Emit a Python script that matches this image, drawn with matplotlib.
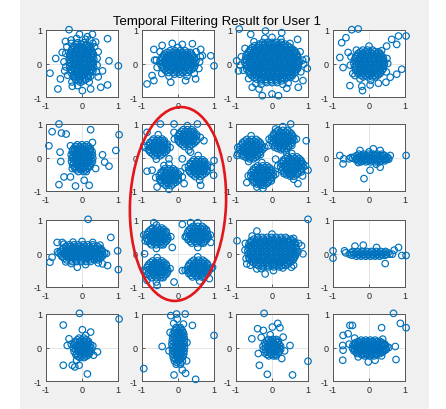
import numpy as np
import matplotlib.pyplot as plt
from matplotlib.patches import Ellipse, Rectangle

title = "Temporal Filtering Result for User 1"
tick_vals = [-1, 0, 1]
tick_labels = ["-1", "0", "1"]

# received symbols (I, Q) per antenna panel, row by row
p11 = [
    (-0.12, 0.62), (0.05, 0.62), (-0.15, 0.75), (0.1, 0.72), (-0.3, 0.7), (0.15, 0.8),
    (-0.22, 0.52), (-0.08, 0.52), (0.08, 0.52), (0.2, 0.52),
    (-0.28, 0.42), (-0.15, 0.42), (-0.02, 0.42), (0.12, 0.42), (0.24, 0.42),
    (-0.32, 0.32), (-0.2, 0.32), (-0.07, 0.32), (0.06, 0.32), (0.18, 0.32), (0.29, 0.32),
    (-0.34, 0.22), (-0.22, 0.22), (-0.1, 0.22), (0.02, 0.22), (0.14, 0.22), (0.27, 0.22),
    (-0.36, 0.12), (-0.24, 0.12), (-0.12, 0.12), (0.0, 0.12), (0.12, 0.12), (0.25, 0.12), (0.33, 0.12),
    (-0.35, 0.02), (-0.23, 0.02), (-0.11, 0.02), (0.01, 0.02), (0.13, 0.02), (0.25, 0.02), (0.32, 0.02),
    (-0.34, -0.08), (-0.2, -0.08), (-0.08, -0.08), (0.05, -0.08), (0.17, -0.08), (0.3, -0.08),
    (-0.33, -0.18), (-0.21, -0.18), (-0.09, -0.18), (0.03, -0.18), (0.15, -0.18), (0.28, -0.18),
    (-0.3, -0.28), (-0.18, -0.28), (-0.05, -0.28), (0.08, -0.28), (0.22, -0.28),
    (-0.25, -0.38), (-0.12, -0.38), (0.01, -0.38), (0.15, -0.38), (0.24, -0.38),
    (-0.18, -0.48), (-0.05, -0.48), (0.1, -0.48), (-0.04, -0.56),
    (-0.16, 0.57), (-0.02, 0.57), (0.12, 0.57),
    (-0.26, 0.47), (-0.12, 0.47), (0.02, 0.47), (0.15, 0.47), (0.24, 0.47),
    (-0.3, 0.37), (-0.18, 0.37), (-0.05, 0.37), (0.08, 0.37), (0.2, 0.37), (0.28, 0.37),
    (-0.34, 0.27), (-0.22, 0.27), (-0.1, 0.27), (0.03, 0.27), (0.15, 0.27), (0.26, 0.27), (0.32, 0.27),
    (-0.3, 0.17), (-0.18, 0.17), (-0.06, 0.17), (0.06, 0.17), (0.19, 0.17), (0.3, 0.17),
    (-0.3, 0.07), (-0.18, 0.07), (-0.06, 0.07), (0.06, 0.07), (0.19, 0.07), (0.29, 0.07),
    (-0.29, -0.03), (-0.17, -0.03), (-0.05, -0.03), (0.07, -0.03), (0.19, -0.03), (0.28, -0.03),
    (-0.27, -0.13), (-0.14, -0.13), (-0.02, -0.13), (0.1, -0.13), (0.22, -0.13), (0.33, -0.13),
    (-0.27, -0.23), (-0.15, -0.23), (-0.03, -0.23), (0.1, -0.23), (0.2, -0.23), (0.3, -0.23),
    (-0.22, -0.33), (-0.1, -0.33), (0.03, -0.33), (0.15, -0.33),
    (-0.2, -0.43), (-0.07, -0.43), (0.06, -0.43), (0.18, -0.43),
    (-0.1, -0.52), (0.03, -0.52),
    (-0.45, 0.3), (0.42, 0.15), (-0.45, -0.1), (0.4, -0.25), (-0.4, -0.35), (0.35, 0.5),
    (-0.3, 0.6), (0.2, -0.55), (-0.28, -0.55), (0.45, -0.4), (-0.5, 0.05), (0.3, 0.6),
    (-0.42, 0.5), (0.45, 0.35), (-0.48, -0.22), (0.42, -0.05), (-0.12, -0.66), (0.22, 0.7),
    (-0.36, 1.01), (0.71, 0.74), (-0.89, -0.29), (-0.67, -0.76), (1.01, -0.07), (0.75, 0.08),
    (-0.73, 0.15), (0.71, -0.64), (0.52, -0.71), (0.38, 0.64), (0.29, 0.87), (-0.07, 0.87),
    (-0.46, 0.66), (0.01, -0.81), (0.24, -0.76), (-0.27, -0.68), (0.57, -0.22), (-0.55, 0.33),
    (-0.6, -0.46),
]

p12 = [
    (-0.22, 0.38), (-0.08, 0.38), (0.06, 0.38), (0.2, 0.38),
    (-0.38, 0.28), (-0.25, 0.28), (-0.12, 0.28), (0.01, 0.28), (0.14, 0.28), (0.27, 0.28), (0.38, 0.28),
    (-0.45, 0.18), (-0.32, 0.18), (-0.19, 0.18), (-0.06, 0.18), (0.07, 0.18), (0.2, 0.18), (0.33, 0.18), (0.45, 0.18),
    (-0.5, 0.08), (-0.37, 0.08), (-0.24, 0.08), (-0.11, 0.08), (0.02, 0.08), (0.15, 0.08), (0.28, 0.08), (0.41, 0.08), (0.5, 0.08),
    (-0.48, -0.02), (-0.35, -0.02), (-0.22, -0.02), (-0.09, -0.02), (0.04, -0.02), (0.17, -0.02), (0.3, -0.02), (0.43, -0.02),
    (-0.44, -0.12), (-0.31, -0.12), (-0.18, -0.12), (-0.05, -0.12), (0.08, -0.12), (0.21, -0.12), (0.34, -0.12), (0.45, -0.12),
    (-0.34, -0.22), (-0.21, -0.22), (-0.08, -0.22), (0.05, -0.22), (0.18, -0.22), (0.32, -0.22),
    (-0.1, -0.32), (0.05, -0.32),
    (-0.3, 0.33), (-0.16, 0.33), (-0.02, 0.33), (0.12, 0.33), (0.26, 0.33), (0.34, 0.33),
    (-0.4, 0.23), (-0.26, 0.23), (-0.13, 0.23), (0.0, 0.23), (0.13, 0.23), (0.26, 0.23), (0.4, 0.23),
    (-0.44, 0.13), (-0.31, 0.13), (-0.18, 0.13), (-0.05, 0.13), (0.08, 0.13), (0.21, 0.13), (0.34, 0.13), (0.46, 0.13),
    (-0.43, 0.03), (-0.3, 0.03), (-0.17, 0.03), (-0.04, 0.03), (0.09, 0.03), (0.22, 0.03), (0.35, 0.03), (0.47, 0.03),
    (-0.42, -0.07), (-0.28, -0.07), (-0.15, -0.07), (-0.02, -0.07), (0.11, -0.07), (0.24, -0.07), (0.37, -0.07), (0.47, -0.07),
    (-0.38, -0.17), (-0.25, -0.17), (-0.12, -0.17), (0.01, -0.17), (0.14, -0.17), (0.27, -0.17), (0.39, -0.17),
    (-0.26, -0.27), (-0.13, -0.27), (0.0, -0.27), (0.13, -0.27), (0.25, -0.27),
    (-0.6, 0.1), (0.6, 0.05), (-0.5, 0.35), (0.5, 0.35), (-0.45, -0.3), (0.45, -0.3),
    (0.0, 0.48), (0.25, -0.38), (-0.25, -0.38), (0.62, 0.2), (-0.58, -0.12), (0.58, -0.15),
    (-0.86, -0.61), (-0.67, -0.51), (-0.72, -0.36), (-0.65, 0.1), (-0.67, 0.42), (-0.44, 0.54),
    (-0.16, 0.6), (0.12, 0.57), (0.4, 0.59), (0.68, 0.23), (0.91, 0.23), (1.0, -0.07),
    (0.49, -0.46), (0.21, -0.51), (-0.2, -0.56), (0.63, 0.42),
]

p13 = [
    (-0.26, 0.63), (-0.13, 0.63), (0.0, 0.63), (0.13, 0.63), (0.26, 0.63),
    (-0.48, 0.53), (-0.35, 0.53), (-0.22, 0.53), (-0.09, 0.53), (0.04, 0.53), (0.17, 0.53), (0.3, 0.53), (0.43, 0.53),
    (-0.6, 0.43), (-0.47, 0.43), (-0.34, 0.43), (-0.21, 0.43), (-0.08, 0.43), (0.05, 0.43), (0.18, 0.43), (0.31, 0.43), (0.44, 0.43), (0.57, 0.43),
    (-0.66, 0.33), (-0.53, 0.33), (-0.4, 0.33), (-0.27, 0.33), (-0.14, 0.33), (-0.01, 0.33), (0.12, 0.33), (0.25, 0.33), (0.38, 0.33), (0.51, 0.33), (0.64, 0.33),
    (-0.72, 0.23), (-0.59, 0.23), (-0.46, 0.23), (-0.33, 0.23), (-0.2, 0.23), (-0.07, 0.23), (0.06, 0.23), (0.19, 0.23), (0.32, 0.23), (0.45, 0.23), (0.58, 0.23), (0.7, 0.23),
    (-0.74, 0.13), (-0.61, 0.13), (-0.48, 0.13), (-0.35, 0.13), (-0.22, 0.13), (-0.09, 0.13), (0.04, 0.13), (0.17, 0.13), (0.3, 0.13), (0.43, 0.13), (0.56, 0.13), (0.69, 0.13),
    (-0.76, 0.03), (-0.63, 0.03), (-0.5, 0.03), (-0.37, 0.03), (-0.24, 0.03), (-0.11, 0.03), (0.02, 0.03), (0.15, 0.03), (0.28, 0.03), (0.41, 0.03), (0.54, 0.03), (0.67, 0.03), (0.76, 0.03),
    (-0.72, -0.07), (-0.59, -0.07), (-0.46, -0.07), (-0.33, -0.07), (-0.2, -0.07), (-0.07, -0.07), (0.06, -0.07), (0.19, -0.07), (0.32, -0.07), (0.45, -0.07), (0.58, -0.07), (0.71, -0.07),
    (-0.7, -0.17), (-0.57, -0.17), (-0.44, -0.17), (-0.31, -0.17), (-0.18, -0.17), (-0.05, -0.17), (0.08, -0.17), (0.21, -0.17), (0.34, -0.17), (0.47, -0.17), (0.6, -0.17), (0.7, -0.17),
    (-0.64, -0.27), (-0.51, -0.27), (-0.38, -0.27), (-0.25, -0.27), (-0.12, -0.27), (0.01, -0.27), (0.14, -0.27), (0.27, -0.27), (0.4, -0.27), (0.53, -0.27), (0.64, -0.27),
    (-0.56, -0.37), (-0.43, -0.37), (-0.3, -0.37), (-0.17, -0.37), (-0.04, -0.37), (0.09, -0.37), (0.22, -0.37), (0.35, -0.37), (0.48, -0.37), (0.56, -0.37),
    (-0.42, -0.47), (-0.29, -0.47), (-0.16, -0.47), (-0.03, -0.47), (0.1, -0.47), (0.23, -0.47), (0.36, -0.47),
    (-0.15, -0.57), (0.0, -0.57), (0.14, -0.57),
    (-0.36, 0.58), (-0.2, 0.58), (-0.06, 0.58), (0.08, 0.58), (0.22, 0.58), (0.36, 0.58),
    (-0.54, 0.48), (-0.41, 0.48), (-0.28, 0.48), (-0.15, 0.48), (-0.02, 0.48), (0.11, 0.48), (0.24, 0.48), (0.37, 0.48), (0.5, 0.48),
    (-0.62, 0.38), (-0.49, 0.38), (-0.36, 0.38), (-0.23, 0.38), (-0.1, 0.38), (0.03, 0.38), (0.16, 0.38), (0.29, 0.38), (0.42, 0.38), (0.55, 0.38), (0.63, 0.38),
    (-0.69, 0.28), (-0.56, 0.28), (-0.43, 0.28), (-0.3, 0.28), (-0.17, 0.28), (-0.04, 0.28), (0.09, 0.28), (0.22, 0.28), (0.35, 0.28), (0.48, 0.28), (0.61, 0.28), (0.69, 0.28),
    (-0.68, 0.18), (-0.55, 0.18), (-0.42, 0.18), (-0.29, 0.18), (-0.16, 0.18), (-0.03, 0.18), (0.1, 0.18), (0.23, 0.18), (0.36, 0.18), (0.49, 0.18), (0.62, 0.18), (0.72, 0.18),
    (-0.7, 0.08), (-0.57, 0.08), (-0.44, 0.08), (-0.31, 0.08), (-0.18, 0.08), (-0.05, 0.08), (0.08, 0.08), (0.21, 0.08), (0.34, 0.08), (0.47, 0.08), (0.6, 0.08), (0.73, 0.08),
    (-0.69, -0.02), (-0.56, -0.02), (-0.43, -0.02), (-0.3, -0.02), (-0.17, -0.02), (-0.04, -0.02), (0.09, -0.02), (0.22, -0.02), (0.35, -0.02), (0.48, -0.02), (0.61, -0.02), (0.73, -0.02),
    (-0.66, -0.12), (-0.53, -0.12), (-0.4, -0.12), (-0.27, -0.12), (-0.14, -0.12), (-0.01, -0.12), (0.12, -0.12), (0.25, -0.12), (0.38, -0.12), (0.51, -0.12), (0.64, -0.12), (0.72, -0.12),
    (-0.63, -0.22), (-0.5, -0.22), (-0.37, -0.22), (-0.24, -0.22), (-0.11, -0.22), (0.02, -0.22), (0.15, -0.22), (0.28, -0.22), (0.41, -0.22), (0.54, -0.22), (0.66, -0.22),
    (-0.6, -0.32), (-0.47, -0.32), (-0.34, -0.32), (-0.21, -0.32), (-0.08, -0.32), (0.05, -0.32), (0.18, -0.32), (0.31, -0.32), (0.44, -0.32), (0.57, -0.32),
    (-0.49, -0.42), (-0.36, -0.42), (-0.23, -0.42), (-0.1, -0.42), (0.03, -0.42), (0.16, -0.42), (0.29, -0.42), (0.42, -0.42), (0.5, -0.42),
    (-0.3, -0.52), (-0.16, -0.52), (-0.02, -0.52), (0.12, -0.52), (0.26, -0.52),
    (-0.85, 0.2), (0.85, 0.1), (-0.8, -0.2), (0.8, -0.25), (-0.5, 0.65), (0.5, 0.6), (-0.65, -0.45),
    (0.65, -0.45), (0.0, 0.78), (-0.3, -0.62), (0.3, -0.62), (0.78, 0.35), (-0.75, 0.45),
    (-0.88, -0.05), (0.88, -0.02), (-0.2, 0.75), (0.25, 0.72), (-0.45, -0.6), (0.45, -0.58),
    (-0.91, 1.03), (-0.59, 0.87), (-0.18, 0.97), (0.27, 0.92), (0.71, 0.72), (-0.98, 0.08),
    (-0.93, -0.22), (0.98, -0.15), (0.95, 0.13), (0.86, -0.51), (0.73, -0.71), (-0.27, -0.96),
    (0.18, -0.96), (0.0, -0.91), (-0.55, -0.71), (0.41, -0.74), (-0.36, -0.76),
]

p14 = [
    (-0.17, 0.4), (-0.04, 0.4), (0.1, 0.4),
    (-0.3, 0.3), (-0.17, 0.3), (-0.04, 0.3), (0.09, 0.3), (0.22, 0.3), (0.31, 0.3),
    (-0.37, 0.2), (-0.24, 0.2), (-0.11, 0.2), (0.02, 0.2), (0.15, 0.2), (0.28, 0.2), (0.38, 0.2),
    (-0.41, 0.1), (-0.28, 0.1), (-0.15, 0.1), (-0.02, 0.1), (0.11, 0.1), (0.24, 0.1), (0.37, 0.1),
    (-0.42, 0.0), (-0.29, 0.0), (-0.16, 0.0), (-0.03, 0.0), (0.1, 0.0), (0.23, 0.0), (0.36, 0.0), (0.43, 0.0),
    (-0.4, -0.1), (-0.27, -0.1), (-0.14, -0.1), (-0.01, -0.1), (0.12, -0.1), (0.25, -0.1), (0.38, -0.1),
    (-0.37, -0.2), (-0.24, -0.2), (-0.11, -0.2), (0.02, -0.2), (0.15, -0.2), (0.28, -0.2), (0.37, -0.2),
    (-0.3, -0.3), (-0.17, -0.3), (-0.04, -0.3), (0.09, -0.3), (0.22, -0.3), (0.31, -0.3),
    (-0.16, -0.4), (-0.03, -0.4), (0.1, -0.4), (0.18, -0.4),
    (-0.24, 0.35), (-0.1, 0.35), (0.03, 0.35), (0.16, 0.35), (0.26, 0.35),
    (-0.33, 0.25), (-0.2, 0.25), (-0.07, 0.25), (0.06, 0.25), (0.19, 0.25), (0.32, 0.25),
    (-0.38, 0.15), (-0.25, 0.15), (-0.12, 0.15), (0.01, 0.15), (0.14, 0.15), (0.27, 0.15), (0.4, 0.15),
    (-0.36, 0.05), (-0.23, 0.05), (-0.1, 0.05), (0.03, 0.05), (0.16, 0.05), (0.29, 0.05), (0.4, 0.05),
    (-0.35, -0.05), (-0.22, -0.05), (-0.09, -0.05), (0.04, -0.05), (0.17, -0.05), (0.3, -0.05), (0.41, -0.05),
    (-0.33, -0.15), (-0.2, -0.15), (-0.07, -0.15), (0.06, -0.15), (0.19, -0.15), (0.32, -0.15), (0.4, -0.15),
    (-0.33, -0.25), (-0.2, -0.25), (-0.07, -0.25), (0.06, -0.25), (0.19, -0.25), (0.32, -0.25),
    (-0.23, -0.35), (-0.1, -0.35), (0.03, -0.35), (0.16, -0.35), (0.25, -0.35),
    (-0.5, 0.2), (0.5, 0.15), (-0.45, -0.3), (0.48, -0.25), (0.0, 0.52), (0.05, -0.5),
    (-0.35, 0.4), (0.35, 0.38), (-0.52, -0.05), (0.52, 0.0),
    (-0.48, 1.01), (-0.3, 1.03), (-0.76, 0.62), (-0.64, 0.77), (-0.81, 0.18), (-0.72, -0.12),
    (-0.58, 0.33), (0.82, 0.82), (1.03, 0.82), (0.63, 0.72), (0.49, 0.52), (0.77, 0.57),
    (0.91, -0.17), (0.77, -0.32), (0.59, -0.41), (0.47, -0.56), (0.26, -0.59), (0.03, -0.64),
    (-0.2, -0.68), (-0.25, -0.46), (-0.53, -0.66), (-0.39, -0.36), (-0.18, -0.81),
]

p21 = [
    (-0.13, 0.38), (0.0, 0.38), (0.13, 0.38),
    (-0.22, 0.28), (-0.1, 0.28), (0.02, 0.28), (0.14, 0.28), (0.23, 0.28),
    (-0.27, 0.18), (-0.15, 0.18), (-0.03, 0.18), (0.09, 0.18), (0.21, 0.18), (0.28, 0.18),
    (-0.3, 0.08), (-0.18, 0.08), (-0.06, 0.08), (0.06, 0.08), (0.18, 0.08), (0.29, 0.08),
    (-0.28, -0.02), (-0.16, -0.02), (-0.04, -0.02), (0.08, -0.02), (0.2, -0.02), (0.3, -0.02),
    (-0.29, -0.12), (-0.17, -0.12), (-0.05, -0.12), (0.07, -0.12), (0.19, -0.12), (0.29, -0.12),
    (-0.26, -0.22), (-0.14, -0.22), (-0.02, -0.22), (0.1, -0.22), (0.22, -0.22),
    (-0.2, -0.32), (-0.08, -0.32), (0.04, -0.32), (0.16, -0.32),
    (-0.1, -0.42), (0.04, -0.42), (0.12, -0.42),
    (-0.18, 0.33), (-0.06, 0.33), (0.07, 0.33), (0.18, 0.33),
    (-0.25, 0.23), (-0.13, 0.23), (-0.01, 0.23), (0.11, 0.23), (0.23, 0.23),
    (-0.24, 0.13), (-0.12, 0.13), (0.0, 0.13), (0.12, 0.13), (0.24, 0.13),
    (-0.24, 0.03), (-0.12, 0.03), (0.0, 0.03), (0.12, 0.03), (0.24, 0.03),
    (-0.23, -0.07), (-0.11, -0.07), (0.01, -0.07), (0.13, -0.07), (0.25, -0.07),
    (-0.23, -0.17), (-0.11, -0.17), (0.01, -0.17), (0.13, -0.17), (0.25, -0.17),
    (-0.2, -0.27), (-0.08, -0.27), (0.04, -0.27), (0.16, -0.27), (0.22, -0.27),
    (-0.15, -0.37), (-0.02, -0.37), (0.1, -0.37),
    (-0.64, 1.0), (-0.83, 0.77), (-0.57, 0.73), (-0.44, 0.7), (-0.92, 0.35), (0.24, 0.83),
    (1.03, 0.68), (0.94, 0.21), (0.57, 0.08), (0.63, -0.14), (0.75, -0.26), (-0.61, 0.16),
    (-0.59, -0.12), (-0.32, 0.35), (0.29, 0.45), (-0.5, -0.58), (-0.32, -0.58), (-0.64, -0.81),
    (-0.18, -0.85), (0.06, -0.68), (0.2, -0.83), (-0.27, -0.33), (0.38, -0.33),
]

p22 = [
    (-0.68, 0.55), (-0.56, 0.55), (-0.44, 0.55),
    (-0.78, 0.45), (-0.65, 0.45), (-0.52, 0.45), (-0.39, 0.45),
    (-0.83, 0.35), (-0.7, 0.35), (-0.57, 0.35), (-0.44, 0.35), (-0.31, 0.35),
    (-0.82, 0.25), (-0.69, 0.25), (-0.56, 0.25), (-0.43, 0.25), (-0.3, 0.25),
    (-0.76, 0.15), (-0.63, 0.15), (-0.5, 0.15), (-0.37, 0.15),
    (-0.64, 0.05), (-0.5, 0.05),
    (-0.72, 0.5), (-0.6, 0.5), (-0.48, 0.5), (-0.38, 0.5),
    (-0.77, 0.4), (-0.64, 0.4), (-0.51, 0.4), (-0.38, 0.4), (-0.3, 0.4),
    (-0.76, 0.3), (-0.63, 0.3), (-0.5, 0.3), (-0.37, 0.3),
    (-0.8, 0.2), (-0.67, 0.2), (-0.54, 0.2), (-0.41, 0.2), (-0.32, 0.2),
    (-0.7, 0.1), (-0.57, 0.1), (-0.44, 0.1),
    (0.14, 0.83), (0.26, 0.83), (0.38, 0.83),
    (0.04, 0.73), (0.17, 0.73), (0.3, 0.73), (0.43, 0.73),
    (-0.01, 0.63), (0.12, 0.63), (0.25, 0.63), (0.38, 0.63), (0.51, 0.63),
    (0.0, 0.53), (0.13, 0.53), (0.26, 0.53), (0.39, 0.53), (0.52, 0.53),
    (0.06, 0.43), (0.19, 0.43), (0.32, 0.43), (0.45, 0.43),
    (0.18, 0.33), (0.32, 0.33),
    (0.1, 0.78), (0.22, 0.78), (0.34, 0.78), (0.44, 0.78),
    (0.05, 0.68), (0.18, 0.68), (0.31, 0.68), (0.44, 0.68), (0.52, 0.68),
    (0.06, 0.58), (0.19, 0.58), (0.32, 0.58), (0.45, 0.58),
    (0.02, 0.48), (0.15, 0.48), (0.28, 0.48), (0.41, 0.48), (0.5, 0.48),
    (0.12, 0.38), (0.25, 0.38), (0.38, 0.38),
    (0.44, -0.07), (0.56, -0.07), (0.68, -0.07),
    (0.34, -0.17), (0.47, -0.17), (0.6, -0.17), (0.73, -0.17),
    (0.29, -0.27), (0.42, -0.27), (0.55, -0.27), (0.68, -0.27), (0.81, -0.27),
    (0.3, -0.37), (0.43, -0.37), (0.56, -0.37), (0.69, -0.37), (0.82, -0.37),
    (0.36, -0.47), (0.49, -0.47), (0.62, -0.47), (0.75, -0.47),
    (0.48, -0.57), (0.62, -0.57),
    (0.4, -0.12), (0.52, -0.12), (0.64, -0.12), (0.74, -0.12),
    (0.35, -0.22), (0.48, -0.22), (0.61, -0.22), (0.74, -0.22), (0.82, -0.22),
    (0.36, -0.32), (0.49, -0.32), (0.62, -0.32), (0.75, -0.32),
    (0.32, -0.42), (0.45, -0.42), (0.58, -0.42), (0.71, -0.42), (0.8, -0.42),
    (0.42, -0.52), (0.55, -0.52), (0.68, -0.52),
    (-0.37, -0.34), (-0.25, -0.34), (-0.13, -0.34),
    (-0.47, -0.44), (-0.34, -0.44), (-0.21, -0.44), (-0.08, -0.44),
    (-0.52, -0.54), (-0.39, -0.54), (-0.26, -0.54), (-0.13, -0.54), (0.0, -0.54),
    (-0.51, -0.64), (-0.38, -0.64), (-0.25, -0.64), (-0.12, -0.64), (0.01, -0.64),
    (-0.45, -0.74), (-0.32, -0.74), (-0.19, -0.74), (-0.06, -0.74),
    (-0.33, -0.84), (-0.19, -0.84),
    (-0.41, -0.39), (-0.29, -0.39), (-0.17, -0.39), (-0.07, -0.39),
    (-0.46, -0.49), (-0.33, -0.49), (-0.2, -0.49), (-0.07, -0.49), (0.01, -0.49),
    (-0.45, -0.59), (-0.32, -0.59), (-0.19, -0.59), (-0.06, -0.59),
    (-0.49, -0.69), (-0.36, -0.69), (-0.23, -0.69), (-0.1, -0.69), (-0.01, -0.69),
    (-0.39, -0.79), (-0.26, -0.79), (-0.13, -0.79),
    (-0.92, 0.3), (-0.55, 0.68), (-0.22, 0.3), (-0.6, -0.05),
    (0.62, 0.6), (0.26, 0.95), (-0.1, 0.55), (0.3, 0.22),
    (0.92, -0.3), (0.56, 0.06), (0.2, -0.3), (0.6, -0.68),
    (-0.62, -0.6), (-0.25, -0.2), (0.12, -0.58), (-0.25, -0.95),
    (-0.86, -0.41), (-0.72, -0.38), (-0.49, 1.0), (-0.11, 1.0), (0.54, 1.0), (0.72, 0.5),
    (-0.86, 0.75), (-0.95, 0.35), (-0.25, -0.04), (0.12, -0.04), (1.0, -0.09), (0.99, -0.53),
    (0.63, -0.83), (-0.58, -0.88), (0.17, -0.78), (0.07, -0.43), (0.35, 0.16), (-0.11, 0.75),
    (-0.39, -0.24),
]

p23 = [
    (-0.7, 0.54), (-0.56, 0.54), (-0.44, 0.54),
    (-0.82, 0.44), (-0.69, 0.44), (-0.56, 0.44), (-0.43, 0.44), (-0.33, 0.44),
    (-0.88, 0.34), (-0.75, 0.34), (-0.62, 0.34), (-0.49, 0.34), (-0.36, 0.34), (-0.27, 0.34),
    (-0.89, 0.24), (-0.76, 0.24), (-0.63, 0.24), (-0.5, 0.24), (-0.37, 0.24), (-0.26, 0.24),
    (-0.86, 0.14), (-0.73, 0.14), (-0.6, 0.14), (-0.47, 0.14), (-0.34, 0.14),
    (-0.8, 0.04), (-0.67, 0.04), (-0.54, 0.04), (-0.41, 0.04),
    (-0.62, -0.04), (-0.52, -0.04),
    (-0.76, 0.49), (-0.63, 0.49), (-0.5, 0.49), (-0.38, 0.49),
    (-0.82, 0.39), (-0.69, 0.39), (-0.56, 0.39), (-0.43, 0.39), (-0.31, 0.39),
    (-0.82, 0.29), (-0.69, 0.29), (-0.56, 0.29), (-0.43, 0.29), (-0.31, 0.29),
    (-0.83, 0.19), (-0.7, 0.19), (-0.57, 0.19), (-0.44, 0.19), (-0.31, 0.19),
    (-0.8, 0.09), (-0.67, 0.09), (-0.54, 0.09), (-0.41, 0.09), (-0.32, 0.09),
    (-0.72, 0.0), (-0.59, 0.0), (-0.46, 0.0),
    (0.17, 0.81), (0.31, 0.81), (0.43, 0.81),
    (0.05, 0.71), (0.18, 0.71), (0.31, 0.71), (0.44, 0.71), (0.54, 0.71),
    (-0.01, 0.61), (0.12, 0.61), (0.25, 0.61), (0.38, 0.61), (0.51, 0.61), (0.6, 0.61),
    (-0.02, 0.51), (0.11, 0.51), (0.24, 0.51), (0.37, 0.51), (0.5, 0.51), (0.61, 0.51),
    (0.01, 0.41), (0.14, 0.41), (0.27, 0.41), (0.4, 0.41), (0.53, 0.41),
    (0.07, 0.31), (0.2, 0.31), (0.33, 0.31), (0.46, 0.31),
    (0.25, 0.23), (0.35, 0.23),
    (0.11, 0.76), (0.24, 0.76), (0.37, 0.76), (0.49, 0.76),
    (0.05, 0.66), (0.18, 0.66), (0.31, 0.66), (0.44, 0.66), (0.56, 0.66),
    (0.05, 0.56), (0.18, 0.56), (0.31, 0.56), (0.44, 0.56), (0.56, 0.56),
    (0.04, 0.46), (0.17, 0.46), (0.3, 0.46), (0.43, 0.46), (0.56, 0.46),
    (0.07, 0.36), (0.2, 0.36), (0.33, 0.36), (0.46, 0.36), (0.55, 0.36),
    (0.15, 0.27), (0.28, 0.27), (0.41, 0.27),
    (0.43, 0.02), (0.57, 0.02), (0.69, 0.02),
    (0.31, -0.08), (0.44, -0.08), (0.57, -0.08), (0.7, -0.08), (0.8, -0.08),
    (0.25, -0.18), (0.38, -0.18), (0.51, -0.18), (0.64, -0.18), (0.77, -0.18), (0.86, -0.18),
    (0.24, -0.28), (0.37, -0.28), (0.5, -0.28), (0.63, -0.28), (0.76, -0.28), (0.87, -0.28),
    (0.27, -0.38), (0.4, -0.38), (0.53, -0.38), (0.66, -0.38), (0.79, -0.38),
    (0.33, -0.48), (0.46, -0.48), (0.59, -0.48), (0.72, -0.48),
    (0.51, -0.56), (0.61, -0.56),
    (0.37, -0.03), (0.5, -0.03), (0.63, -0.03), (0.75, -0.03),
    (0.31, -0.13), (0.44, -0.13), (0.57, -0.13), (0.7, -0.13), (0.82, -0.13),
    (0.31, -0.23), (0.44, -0.23), (0.57, -0.23), (0.7, -0.23), (0.82, -0.23),
    (0.3, -0.33), (0.43, -0.33), (0.56, -0.33), (0.69, -0.33), (0.82, -0.33),
    (0.33, -0.43), (0.46, -0.43), (0.59, -0.43), (0.72, -0.43), (0.81, -0.43),
    (0.41, -0.52), (0.54, -0.52), (0.67, -0.52),
    (-0.4, -0.25), (-0.26, -0.25), (-0.14, -0.25),
    (-0.52, -0.35), (-0.39, -0.35), (-0.26, -0.35), (-0.13, -0.35), (-0.03, -0.35),
    (-0.58, -0.45), (-0.45, -0.45), (-0.32, -0.45), (-0.19, -0.45), (-0.06, -0.45), (0.03, -0.45),
    (-0.59, -0.55), (-0.46, -0.55), (-0.33, -0.55), (-0.2, -0.55), (-0.07, -0.55), (0.04, -0.55),
    (-0.56, -0.65), (-0.43, -0.65), (-0.3, -0.65), (-0.17, -0.65), (-0.04, -0.65),
    (-0.5, -0.75), (-0.37, -0.75), (-0.24, -0.75), (-0.11, -0.75),
    (-0.32, -0.83), (-0.22, -0.83),
    (-0.46, -0.3), (-0.33, -0.3), (-0.2, -0.3), (-0.08, -0.3),
    (-0.52, -0.4), (-0.39, -0.4), (-0.26, -0.4), (-0.13, -0.4), (-0.01, -0.4),
    (-0.52, -0.5), (-0.39, -0.5), (-0.26, -0.5), (-0.13, -0.5), (-0.01, -0.5),
    (-0.53, -0.6), (-0.4, -0.6), (-0.27, -0.6), (-0.14, -0.6), (-0.01, -0.6),
    (-0.5, -0.7), (-0.37, -0.7), (-0.24, -0.7), (-0.11, -0.7), (-0.02, -0.7),
    (-0.42, -0.79), (-0.29, -0.79), (-0.16, -0.79),
    (-0.95, 0.3), (-0.58, 0.65), (-0.2, 0.3), (-0.65, -0.12), (-0.95, 0.12),
    (0.68, 0.55), (0.3, 0.92), (-0.08, 0.55), (0.4, 0.15), (0.1, 0.85),
    (0.93, -0.25), (0.55, 0.12), (0.16, -0.25), (0.6, -0.65), (0.85, -0.55),
    (-0.66, -0.55), (-0.28, -0.15), (0.1, -0.5), (-0.25, -0.92), (-0.7, -0.75),
    (0.52, 1.0), (0.95, 0.5), (-0.97, 0.06), (1.0, -0.38), (0.72, -0.78), (-0.42, -0.88),
    (0.1, -0.05), (-0.1, 0.35),
]

p24 = [
    (-0.28, 0.1), (-0.15, 0.1), (-0.02, 0.1), (0.11, 0.1), (0.24, 0.1), (0.37, 0.1),
    (-0.4, 0.02), (-0.27, 0.02), (-0.14, 0.02), (-0.01, 0.02), (0.12, 0.02), (0.25, 0.02), (0.38, 0.02), (0.5, 0.02),
    (-0.37, -0.06), (-0.24, -0.06), (-0.11, -0.06), (0.02, -0.06), (0.15, -0.06), (0.28, -0.06), (0.41, -0.06), (0.48, -0.06),
    (-0.22, -0.13), (-0.09, -0.13), (0.04, -0.13), (0.17, -0.13), (0.3, -0.13),
    (-0.34, 0.06), (-0.21, 0.06), (-0.08, 0.06), (0.05, 0.06), (0.18, 0.06), (0.31, 0.06), (0.43, 0.06),
    (-0.45, -0.02), (-0.33, -0.02), (-0.2, -0.02), (-0.07, -0.02), (0.06, -0.02), (0.19, -0.02), (0.32, -0.02), (0.45, -0.02), (0.53, -0.02),
    (-0.3, -0.1), (-0.17, -0.1), (-0.04, -0.1), (0.09, -0.1), (0.22, -0.1), (0.35, -0.1), (0.44, -0.1),
    (-0.5, 0.0), (0.55, -0.05), (0.0, 0.17), (0.2, -0.2), (-0.3, -0.15),
    (-0.81, 0.06), (-0.7, -0.04), (-0.72, -0.19), (-0.55, -0.04), (1.03, 0.06), (0.59, 0.06),
    (-0.14, -0.63), (0.03, -0.38), (0.31, -0.29), (-0.25, 0.21), (0.12, 0.26), (0.31, 0.21),
]

p31 = [
    (-0.35, 0.26), (-0.22, 0.26), (-0.09, 0.26), (0.04, 0.26), (0.17, 0.26), (0.3, 0.26),
    (-0.52, 0.16), (-0.39, 0.16), (-0.26, 0.16), (-0.13, 0.16), (0.0, 0.16), (0.13, 0.16), (0.26, 0.16), (0.39, 0.16), (0.5, 0.16),
    (-0.6, 0.06), (-0.47, 0.06), (-0.34, 0.06), (-0.21, 0.06), (-0.08, 0.06), (0.05, 0.06), (0.18, 0.06), (0.31, 0.06), (0.44, 0.06), (0.57, 0.06),
    (-0.58, -0.04), (-0.45, -0.04), (-0.32, -0.04), (-0.19, -0.04), (-0.06, -0.04), (0.07, -0.04), (0.2, -0.04), (0.33, -0.04), (0.46, -0.04), (0.58, -0.04),
    (-0.5, -0.14), (-0.37, -0.14), (-0.24, -0.14), (-0.11, -0.14), (0.02, -0.14), (0.15, -0.14), (0.28, -0.14), (0.41, -0.14), (0.5, -0.14),
    (-0.28, -0.24), (-0.15, -0.24), (-0.02, -0.24), (0.11, -0.24), (0.24, -0.24),
    (-0.45, 0.21), (-0.32, 0.21), (-0.19, 0.21), (-0.06, 0.21), (0.07, 0.21), (0.2, 0.21), (0.33, 0.21), (0.43, 0.21),
    (-0.56, 0.11), (-0.43, 0.11), (-0.3, 0.11), (-0.17, 0.11), (-0.04, 0.11), (0.09, 0.11), (0.22, 0.11), (0.35, 0.11), (0.48, 0.11), (0.55, 0.11),
    (-0.64, 0.01), (-0.52, 0.01), (-0.39, 0.01), (-0.26, 0.01), (-0.13, 0.01), (0.0, 0.01), (0.13, 0.01), (0.26, 0.01), (0.39, 0.01), (0.52, 0.01), (0.63, 0.01),
    (-0.56, -0.09), (-0.43, -0.09), (-0.3, -0.09), (-0.17, -0.09), (-0.04, -0.09), (0.09, -0.09), (0.22, -0.09), (0.35, -0.09), (0.48, -0.09), (0.56, -0.09),
    (-0.43, -0.19), (-0.3, -0.19), (-0.17, -0.19), (-0.04, -0.19), (0.09, -0.19), (0.22, -0.19), (0.35, -0.19), (0.44, -0.19),
    (-0.68, 0.05), (0.68, 0.0), (-0.5, 0.28), (0.5, 0.25), (-0.45, -0.25), (0.45, -0.28),
    (0.0, 0.36), (0.1, -0.33), (-0.25, 0.34), (0.3, 0.33), (-0.3, -0.3),
    (0.17, 1.02), (0.8, 0.48), (0.99, 0.08), (1.01, -0.48), (0.71, -0.36), (-0.89, -0.26),
    (-0.83, -0.11), (-0.69, 0.33), (-0.55, 0.33), (0.57, -0.31), (-0.13, -0.41),
]

p32 = [
    (-0.7, 0.76), (-0.57, 0.76), (-0.45, 0.76),
    (-0.81, 0.66), (-0.68, 0.66), (-0.55, 0.66), (-0.42, 0.66), (-0.33, 0.66),
    (-0.86, 0.56), (-0.73, 0.56), (-0.6, 0.56), (-0.47, 0.56), (-0.34, 0.56),
    (-0.88, 0.46), (-0.75, 0.46), (-0.62, 0.46), (-0.49, 0.46), (-0.36, 0.46), (-0.28, 0.46),
    (-0.84, 0.36), (-0.71, 0.36), (-0.58, 0.36), (-0.45, 0.36), (-0.33, 0.36),
    (-0.74, 0.26), (-0.61, 0.26), (-0.48, 0.26), (-0.41, 0.26),
    (-0.76, 0.71), (-0.63, 0.71), (-0.5, 0.71), (-0.39, 0.71),
    (-0.84, 0.61), (-0.71, 0.61), (-0.58, 0.61), (-0.45, 0.61), (-0.32, 0.61),
    (-0.8, 0.51), (-0.67, 0.51), (-0.54, 0.51), (-0.41, 0.51), (-0.3, 0.51),
    (-0.82, 0.41), (-0.69, 0.41), (-0.56, 0.41), (-0.43, 0.41), (-0.3, 0.41),
    (-0.78, 0.31), (-0.65, 0.31), (-0.52, 0.31), (-0.39, 0.31),
    (0.42, 0.81), (0.55, 0.81), (0.67, 0.81),
    (0.31, 0.71), (0.44, 0.71), (0.57, 0.71), (0.7, 0.71), (0.79, 0.71),
    (0.26, 0.61), (0.39, 0.61), (0.52, 0.61), (0.65, 0.61), (0.78, 0.61),
    (0.24, 0.51), (0.37, 0.51), (0.5, 0.51), (0.63, 0.51), (0.76, 0.51), (0.84, 0.51),
    (0.28, 0.41), (0.41, 0.41), (0.54, 0.41), (0.67, 0.41), (0.79, 0.41),
    (0.38, 0.31), (0.51, 0.31), (0.64, 0.31), (0.71, 0.31),
    (0.36, 0.76), (0.49, 0.76), (0.62, 0.76), (0.73, 0.76),
    (0.28, 0.66), (0.41, 0.66), (0.54, 0.66), (0.67, 0.66), (0.8, 0.66),
    (0.32, 0.56), (0.45, 0.56), (0.58, 0.56), (0.71, 0.56), (0.82, 0.56),
    (0.3, 0.46), (0.43, 0.46), (0.56, 0.46), (0.69, 0.46), (0.82, 0.46),
    (0.34, 0.36), (0.47, 0.36), (0.6, 0.36), (0.73, 0.36),
    (-0.7, -0.22), (-0.57, -0.22), (-0.45, -0.22),
    (-0.81, -0.32), (-0.68, -0.32), (-0.55, -0.32), (-0.42, -0.32), (-0.33, -0.32),
    (-0.86, -0.42), (-0.73, -0.42), (-0.6, -0.42), (-0.47, -0.42), (-0.34, -0.42),
    (-0.88, -0.52), (-0.75, -0.52), (-0.62, -0.52), (-0.49, -0.52), (-0.36, -0.52), (-0.28, -0.52),
    (-0.84, -0.62), (-0.71, -0.62), (-0.58, -0.62), (-0.45, -0.62), (-0.33, -0.62),
    (-0.74, -0.72), (-0.61, -0.72), (-0.48, -0.72), (-0.41, -0.72),
    (-0.76, -0.27), (-0.63, -0.27), (-0.5, -0.27), (-0.39, -0.27),
    (-0.84, -0.37), (-0.71, -0.37), (-0.58, -0.37), (-0.45, -0.37), (-0.32, -0.37),
    (-0.8, -0.47), (-0.67, -0.47), (-0.54, -0.47), (-0.41, -0.47), (-0.3, -0.47),
    (-0.82, -0.57), (-0.69, -0.57), (-0.56, -0.57), (-0.43, -0.57), (-0.3, -0.57),
    (-0.78, -0.67), (-0.65, -0.67), (-0.52, -0.67), (-0.39, -0.67),
    (0.44, -0.2), (0.57, -0.2), (0.69, -0.2),
    (0.33, -0.3), (0.46, -0.3), (0.59, -0.3), (0.72, -0.3), (0.81, -0.3),
    (0.28, -0.4), (0.41, -0.4), (0.54, -0.4), (0.67, -0.4), (0.8, -0.4),
    (0.26, -0.5), (0.39, -0.5), (0.52, -0.5), (0.65, -0.5), (0.78, -0.5), (0.86, -0.5),
    (0.3, -0.6), (0.43, -0.6), (0.56, -0.6), (0.69, -0.6), (0.81, -0.6),
    (0.4, -0.7), (0.53, -0.7), (0.66, -0.7), (0.73, -0.7),
    (0.38, -0.25), (0.51, -0.25), (0.64, -0.25), (0.75, -0.25),
    (0.3, -0.35), (0.43, -0.35), (0.56, -0.35), (0.69, -0.35), (0.82, -0.35),
    (0.34, -0.45), (0.47, -0.45), (0.6, -0.45), (0.73, -0.45), (0.84, -0.45),
    (0.32, -0.55), (0.45, -0.55), (0.58, -0.55), (0.71, -0.55), (0.84, -0.55),
    (0.36, -0.65), (0.49, -0.65), (0.62, -0.65), (0.75, -0.65),
    (-0.2, 0.5), (-0.6, 0.85), (-0.95, 0.55), (-0.6, 0.15),
    (0.9, 0.55), (0.2, 0.5), (0.55, 0.18), (0.55, 0.92),
    (-0.22, -0.45), (-0.95, -0.5), (-0.6, -0.85), (-0.58, -0.12),
    (0.92, -0.45), (0.2, -0.5), (0.55, -0.1), (0.6, -0.82),
    (-0.67, 0.92), (0.12, 0.87), (0.35, 0.92), (-0.91, 0.38), (-0.93, -0.01), (-0.16, 0.18),
    (0.12, -0.51), (0.91, 0.33), (0.96, -0.41), (0.87, -0.75), (-0.11, -0.85), (-0.86, -0.8),
    (-0.58, -0.95),
]

p33 = [
    (-0.4, 0.48), (-0.27, 0.48), (-0.14, 0.48), (-0.01, 0.48), (0.12, 0.48), (0.25, 0.48), (0.38, 0.48),
    (-0.58, 0.38), (-0.45, 0.38), (-0.32, 0.38), (-0.19, 0.38), (-0.06, 0.38), (0.07, 0.38), (0.2, 0.38), (0.33, 0.38), (0.46, 0.38), (0.58, 0.38),
    (-0.64, 0.28), (-0.51, 0.28), (-0.38, 0.28), (-0.25, 0.28), (-0.12, 0.28), (0.01, 0.28), (0.14, 0.28), (0.27, 0.28), (0.4, 0.28), (0.53, 0.28), (0.64, 0.28),
    (-0.66, 0.18), (-0.53, 0.18), (-0.4, 0.18), (-0.27, 0.18), (-0.14, 0.18), (-0.01, 0.18), (0.12, 0.18), (0.25, 0.18), (0.38, 0.18), (0.51, 0.18), (0.64, 0.18),
    (-0.67, 0.08), (-0.54, 0.08), (-0.41, 0.08), (-0.28, 0.08), (-0.15, 0.08), (-0.02, 0.08), (0.11, 0.08), (0.24, 0.08), (0.37, 0.08), (0.5, 0.08), (0.63, 0.08),
    (-0.66, -0.02), (-0.53, -0.02), (-0.4, -0.02), (-0.27, -0.02), (-0.14, -0.02), (-0.01, -0.02), (0.12, -0.02), (0.25, -0.02), (0.38, -0.02), (0.51, -0.02), (0.64, -0.02),
    (-0.64, -0.12), (-0.51, -0.12), (-0.38, -0.12), (-0.25, -0.12), (-0.12, -0.12), (0.01, -0.12), (0.14, -0.12), (0.27, -0.12), (0.4, -0.12), (0.53, -0.12), (0.62, -0.12),
    (-0.58, -0.22), (-0.45, -0.22), (-0.32, -0.22), (-0.19, -0.22), (-0.06, -0.22), (0.07, -0.22), (0.2, -0.22), (0.33, -0.22), (0.46, -0.22), (0.56, -0.22),
    (-0.45, -0.32), (-0.32, -0.32), (-0.19, -0.32), (-0.06, -0.32), (0.07, -0.32), (0.2, -0.32), (0.33, -0.32), (0.44, -0.32),
    (-0.25, -0.4), (-0.1, -0.4), (0.05, -0.4), (0.2, -0.4),
    (-0.5, 0.43), (-0.37, 0.43), (-0.24, 0.43), (-0.11, 0.43), (0.02, 0.43), (0.15, 0.43), (0.28, 0.43), (0.41, 0.43), (0.52, 0.43),
    (-0.6, 0.33), (-0.47, 0.33), (-0.34, 0.33), (-0.21, 0.33), (-0.08, 0.33), (0.05, 0.33), (0.18, 0.33), (0.31, 0.33), (0.44, 0.33), (0.57, 0.33), (0.64, 0.33),
    (-0.6, 0.23), (-0.47, 0.23), (-0.34, 0.23), (-0.21, 0.23), (-0.08, 0.23), (0.05, 0.23), (0.18, 0.23), (0.31, 0.23), (0.44, 0.23), (0.57, 0.23), (0.66, 0.23),
    (-0.6, 0.13), (-0.47, 0.13), (-0.34, 0.13), (-0.21, 0.13), (-0.08, 0.13), (0.05, 0.13), (0.18, 0.13), (0.31, 0.13), (0.44, 0.13), (0.57, 0.13), (0.67, 0.13),
    (-0.6, 0.03), (-0.47, 0.03), (-0.34, 0.03), (-0.21, 0.03), (-0.08, 0.03), (0.05, 0.03), (0.18, 0.03), (0.31, 0.03), (0.44, 0.03), (0.57, 0.03), (0.67, 0.03),
    (-0.6, -0.07), (-0.47, -0.07), (-0.34, -0.07), (-0.21, -0.07), (-0.08, -0.07), (0.05, -0.07), (0.18, -0.07), (0.31, -0.07), (0.44, -0.07), (0.57, -0.07), (0.65, -0.07),
    (-0.62, -0.17), (-0.51, -0.17), (-0.38, -0.17), (-0.25, -0.17), (-0.12, -0.17), (0.01, -0.17), (0.14, -0.17), (0.27, -0.17), (0.4, -0.17), (0.52, -0.17), (0.6, -0.17),
    (-0.52, -0.27), (-0.38, -0.27), (-0.25, -0.27), (-0.12, -0.27), (0.01, -0.27), (0.14, -0.27), (0.27, -0.27), (0.4, -0.27), (0.5, -0.27),
    (-0.38, -0.36), (-0.25, -0.36), (-0.12, -0.36), (0.01, -0.36), (0.14, -0.36), (0.27, -0.36), (0.38, -0.36),
    (-0.75, 0.1), (0.72, 0.05), (-0.55, 0.52), (0.6, 0.45), (-0.6, -0.35), (0.6, -0.35),
    (0.0, 0.58), (-0.3, -0.45), (0.3, -0.43), (-0.74, 0.3), (0.74, 0.3), (-0.72, -0.15),
    (1.0, 1.02), (-0.97, 0.38), (-0.42, 0.67), (0.82, 0.23), (0.86, -0.01), (-0.7, -0.31),
    (-0.19, -0.61), (-0.42, -0.46), (0.04, -0.51), (0.54, -0.41),
]

p34 = [
    (-0.45, 0.06), (-0.32, 0.06), (-0.19, 0.06), (-0.06, 0.06), (0.07, 0.06), (0.2, 0.06), (0.33, 0.06), (0.46, 0.06),
    (-0.55, -0.02), (-0.42, -0.02), (-0.29, -0.02), (-0.16, -0.02), (-0.03, -0.02), (0.1, -0.02), (0.23, -0.02), (0.36, -0.02), (0.49, -0.02), (0.58, -0.02),
    (-0.35, -0.08), (-0.22, -0.08), (-0.09, -0.08), (0.04, -0.08), (0.17, -0.08), (0.3, -0.08),
    (-0.5, 0.02), (-0.37, 0.02), (-0.24, 0.02), (-0.11, 0.02), (0.02, 0.02), (0.15, 0.02), (0.28, 0.02), (0.41, 0.02), (0.53, 0.02),
    (-0.48, -0.05), (-0.29, -0.05), (-0.16, -0.05), (-0.03, -0.05), (0.1, -0.05), (0.23, -0.05), (0.36, -0.05), (0.45, -0.05),
    (-0.65, 0.02), (0.65, -0.02), (0.7, 0.1), (-0.68, 0.08),
    (-1.0, 0.08), (-1.0, -0.14), (1.03, -0.06), (0.82, 0.18), (0.45, -0.3), (0.21, 0.18),
    (-0.16, 0.25), (-0.39, 0.22), (0.91, -0.06),
]

p41 = [
    (-0.08, 0.28), (0.05, 0.28),
    (-0.18, 0.18), (-0.05, 0.18), (0.08, 0.18), (0.18, 0.18),
    (-0.23, 0.08), (-0.1, 0.08), (0.03, 0.08), (0.16, 0.08), (0.24, 0.08),
    (-0.24, -0.02), (-0.11, -0.02), (0.02, -0.02), (0.15, -0.02), (0.25, -0.02),
    (-0.22, -0.12), (-0.09, -0.12), (0.04, -0.12), (0.17, -0.12), (0.24, -0.12),
    (-0.17, -0.22), (-0.04, -0.22), (0.09, -0.22), (0.18, -0.22),
    (-0.06, -0.3), (0.06, -0.3),
    (-0.13, 0.23), (0.0, 0.23), (0.12, 0.23),
    (-0.2, 0.13), (-0.07, 0.13), (0.06, 0.13), (0.18, 0.13),
    (-0.17, 0.03), (-0.04, 0.03), (0.09, 0.03), (0.21, 0.03),
    (-0.17, -0.07), (-0.04, -0.07), (0.09, -0.07), (0.21, -0.07),
    (-0.15, -0.17), (-0.02, -0.17), (0.11, -0.17), (0.21, -0.17),
    (-0.12, -0.26), (0.0, -0.26), (0.12, -0.26),
    (-0.07, 1.02), (1.03, 0.85), (-0.52, 0.67), (0.01, 0.53), (0.24, 0.46), (-0.36, 0.26),
    (-0.41, 0.06), (0.43, -0.13), (0.32, -0.23), (-0.52, -0.53), (-0.27, -0.53), (-0.2, -0.58),
    (-0.08, -0.53), (0.15, -0.79), (-0.3, 0.1), (0.3, 0.05), (0.1, 0.36), (-0.15, -0.38),
]

p42 = [
    (-0.05, 0.6), (0.06, 0.6),
    (-0.1, 0.5), (0.02, 0.5), (0.12, 0.5),
    (-0.14, 0.4), (-0.02, 0.4), (0.1, 0.4), (0.16, 0.4),
    (-0.15, 0.3), (-0.03, 0.3), (0.09, 0.3), (0.17, 0.3),
    (-0.16, 0.2), (-0.04, 0.2), (0.08, 0.2), (0.18, 0.2),
    (-0.17, 0.1), (-0.05, 0.1), (0.07, 0.1), (0.17, 0.1),
    (-0.16, 0.0), (-0.04, 0.0), (0.08, 0.0), (0.18, 0.0),
    (-0.15, -0.1), (-0.03, -0.1), (0.09, -0.1), (0.17, -0.1),
    (-0.15, -0.2), (-0.03, -0.2), (0.09, -0.2), (0.16, -0.2),
    (-0.13, -0.3), (-0.01, -0.3), (0.11, -0.3),
    (-0.1, -0.4), (0.02, -0.4), (0.12, -0.4),
    (-0.05, -0.5), (0.07, -0.5),
    (-0.04, 0.55), (0.08, 0.55),
    (-0.09, 0.45), (0.04, 0.45), (0.14, 0.45),
    (-0.09, 0.35), (0.03, 0.35), (0.14, 0.35),
    (-0.1, 0.25), (0.02, 0.25), (0.13, 0.25),
    (-0.11, 0.15), (0.01, 0.15), (0.13, 0.15),
    (-0.11, 0.05), (0.01, 0.05), (0.13, 0.05),
    (-0.1, -0.05), (0.02, -0.05), (0.13, -0.05),
    (-0.09, -0.15), (0.03, -0.15), (0.14, -0.15),
    (-0.08, -0.25), (0.04, -0.25), (0.14, -0.25),
    (-0.07, -0.35), (0.05, -0.35),
    (-0.03, -0.45), (0.07, -0.45),
    (-0.2, 0.95), (-0.04, 1.0), (0.2, 1.0), (-0.02, 0.85), (0.4, 0.66), (1.0, 0.36),
    (-0.44, 0.03), (-0.95, -0.63), (-0.11, -0.82), (0.21, -0.77), (0.49, -0.95), (0.12, -0.67),
    (-0.12, 0.72), (0.15, 0.7), (-0.25, -0.1), (0.25, 0.15), (-0.22, 0.45), (0.24, -0.4),
]

p43 = [
    (-0.1, 0.24), (0.02, 0.24), (0.12, 0.24),
    (-0.2, 0.14), (-0.08, 0.14), (0.04, 0.14), (0.16, 0.14),
    (-0.25, 0.04), (-0.12, 0.04), (0.01, 0.04), (0.14, 0.04), (0.24, 0.04),
    (-0.24, -0.06), (-0.11, -0.06), (0.02, -0.06), (0.15, -0.06), (0.24, -0.06),
    (-0.2, -0.16), (-0.07, -0.16), (0.06, -0.16), (0.18, -0.16),
    (-0.09, -0.25), (0.04, -0.25), (0.12, -0.25),
    (-0.14, 0.19), (-0.02, 0.19), (0.1, 0.19), (0.18, 0.19),
    (-0.18, 0.09), (-0.05, 0.09), (0.08, 0.09), (0.2, 0.09),
    (-0.18, -0.01), (-0.05, -0.01), (0.08, -0.01), (0.2, -0.01),
    (-0.16, -0.11), (-0.03, -0.11), (0.1, -0.11), (0.2, -0.11),
    (-0.14, -0.21), (-0.01, -0.21), (0.1, -0.21),
    (-0.22, 1.02), (0.16, 0.72), (0.22, 0.59), (0.01, 0.61), (-0.4, 0.56), (-0.24, 0.51),
    (-0.56, 0.26), (0.5, 0.06), (0.31, 0.31), (1.0, -0.41), (0.57, -0.82), (-0.13, -0.8),
    (-0.35, -0.53), (-0.38, -0.18), (0.27, -0.33), (-0.3, 0.3), (0.35, -0.1), (-0.05, 0.38),
]

p44 = [
    (-0.22, 0.22), (-0.09, 0.22), (0.04, 0.22), (0.17, 0.22),
    (-0.38, 0.14), (-0.25, 0.14), (-0.12, 0.14), (0.01, 0.14), (0.14, 0.14), (0.27, 0.14), (0.37, 0.14),
    (-0.45, 0.06), (-0.32, 0.06), (-0.19, 0.06), (-0.06, 0.06), (0.07, 0.06), (0.2, 0.06), (0.33, 0.06), (0.45, 0.06),
    (-0.46, -0.02), (-0.33, -0.02), (-0.2, -0.02), (-0.07, -0.02), (0.06, -0.02), (0.19, -0.02), (0.32, -0.02), (0.45, -0.02),
    (-0.42, -0.1), (-0.29, -0.1), (-0.16, -0.1), (-0.03, -0.1), (0.1, -0.1), (0.23, -0.1), (0.36, -0.1), (0.42, -0.1),
    (-0.33, -0.18), (-0.2, -0.18), (-0.07, -0.18), (0.06, -0.18), (0.19, -0.18), (0.31, -0.18),
    (-0.12, -0.25), (0.02, -0.25), (0.14, -0.25),
    (-0.3, 0.18), (-0.16, 0.18), (-0.03, 0.18), (0.1, 0.18), (0.23, 0.18), (0.31, 0.18),
    (-0.4, 0.1), (-0.28, 0.1), (-0.15, 0.1), (-0.02, 0.1), (0.11, 0.1), (0.24, 0.1), (0.36, 0.1), (0.44, 0.1),
    (-0.39, 0.02), (-0.26, 0.02), (-0.13, 0.02), (0.0, 0.02), (0.13, 0.02), (0.26, 0.02), (0.39, 0.02), (0.5, 0.02),
    (-0.4, -0.06), (-0.26, -0.06), (-0.13, -0.06), (0.0, -0.06), (0.13, -0.06), (0.26, -0.06), (0.39, -0.06), (0.48, -0.06),
    (-0.36, -0.14), (-0.23, -0.14), (-0.1, -0.14), (0.03, -0.14), (0.16, -0.14), (0.29, -0.14), (0.38, -0.14),
    (-0.2, -0.22), (-0.06, -0.22), (0.08, -0.22), (0.2, -0.22),
    (-0.55, 0.1), (0.55, 0.0), (-0.4, 0.28), (0.38, 0.25), (-0.3, -0.28), (0.35, -0.25),
    (0.68, 1.02), (0.87, 0.72), (1.03, 0.59), (-0.53, 0.66), (-0.46, 0.66), (0.35, 0.59),
    (-0.72, 0.36), (-0.58, 0.41), (-0.73, 0.06), (-0.72, -0.08), (-0.73, -0.38), (0.73, 0.03),
    (0.75, -0.36), (-0.02, -0.43), (0.17, -0.38),
]

panels = [
    [p11, p12, p13, p14],
    [p21, p22, p23, p24],
    [p31, p32, p33, p34],
    [p41, p42, p43, p44],
]

plt.rcParams["font.family"] = ["Liberation Sans", "DejaVu Sans"]

W, H = 446, 410
fig = plt.figure(figsize=(W / 100, H / 100), dpi=100)
fig.patch.set_facecolor("white")
# grey figure window area
fig.add_artist(Rectangle((20 / W, 0), 409 / W, 1, transform=fig.transFigure,
                         facecolor="#f0f0f0", edgecolor="none", zorder=-10))

col_left = [46, 142, 236, 333]
row_top = [31, 125, 221, 315]
ax_w, ax_h = 72, 67

for r in range(4):
    for c in range(4):
        pts = np.array(panels[r][c])
        ax = fig.add_axes([col_left[c] / W, 1 - (row_top[r] + ax_h) / H, ax_w / W, ax_h / H])
        ax.set_facecolor("white")
        ax.scatter(pts[:, 0], pts[:, 1], s=22, facecolors="none", edgecolors="#0072BD",
                   linewidths=0.85, clip_on=False, zorder=3)
        ax.set_xlim(-1, 1)
        ax.set_ylim(-1, 1)
        ax.set_xticks(tick_vals)
        ax.set_yticks(tick_vals)
        ax.set_xticklabels(tick_labels)
        ax.set_yticklabels(tick_labels)
        ax.tick_params(direction="in", length=2, width=0.5, labelsize=6.5,
                       colors="#262626", pad=3)
        ax.grid(True, color="#e0e0e0", linewidth=0.6)
        ax.set_axisbelow(True)
        for sp in ax.spines.values():
            sp.set_color("#555555")
            sp.set_linewidth(0.7)

fig.text(217 / W, 1 - 25 / H, title, ha="center", va="baseline", fontsize=9.5, color="black")

# highlight around the two QPSK-like panels
fig.add_artist(Ellipse((1.78, (H - 205) / 100), 0.96, 1.94, angle=-2.5,
                       transform=fig.dpi_scale_trans, fill=False,
                       edgecolor="#e3161c", linewidth=1.9, zorder=20))

fig.savefig("out.png", dpi=100)
